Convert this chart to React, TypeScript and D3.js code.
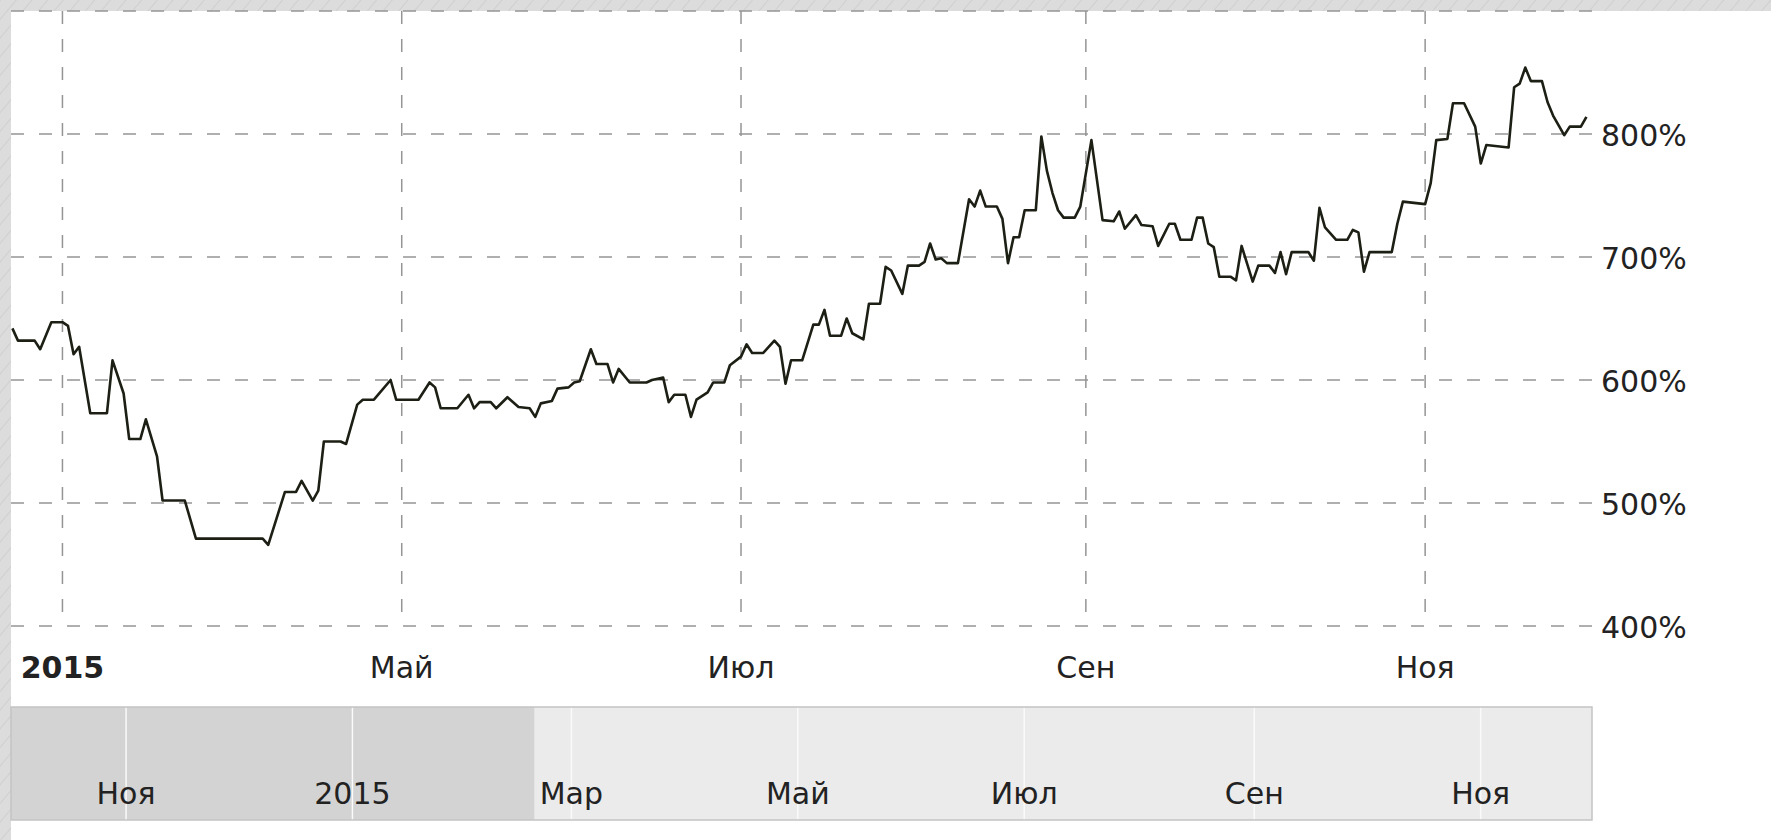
import React, { useEffect, useRef } from 'react'
import * as d3 from 'd3'

const W = 1771
const H = 840

// ряд: дата / значение в %
const dates = [
  '2015-02-20','2015-02-21','2015-02-24','2015-02-25','2015-02-27','2015-03-01','2015-03-02','2015-03-03',
  '2015-03-04','2015-03-06','2015-03-09','2015-03-10','2015-03-12','2015-03-13','2015-03-15','2015-03-16',
  '2015-03-18','2015-03-19','2015-03-23','2015-03-25','2015-04-06','2015-04-07','2015-04-10','2015-04-12',
  '2015-04-13','2015-04-15','2015-04-16','2015-04-17','2015-04-20','2015-04-21','2015-04-23','2015-04-24',
  '2015-04-26','2015-04-29','2015-04-30','2015-05-04','2015-05-06','2015-05-07','2015-05-08','2015-05-11',
  '2015-05-13','2015-05-14','2015-05-15','2015-05-17','2015-05-18','2015-05-20','2015-05-22','2015-05-24',
  '2015-05-25','2015-05-26','2015-05-28','2015-05-29','2015-05-31','2015-06-01','2015-06-02','2015-06-04',
  '2015-06-05','2015-06-07','2015-06-08','2015-06-09','2015-06-11','2015-06-14','2015-06-15','2015-06-17',
  '2015-06-18','2015-06-19','2015-06-21','2015-06-22','2015-06-23','2015-06-25','2015-06-26','2015-06-28',
  '2015-06-29','2015-07-01','2015-07-02','2015-07-03','2015-07-05','2015-07-07','2015-07-08','2015-07-09',
  '2015-07-10','2015-07-12','2015-07-14','2015-07-15','2015-07-16','2015-07-17','2015-07-19','2015-07-20',
  '2015-07-21','2015-07-23','2015-07-24','2015-07-26','2015-07-27','2015-07-28','2015-07-30','2015-07-31',
  '2015-08-02','2015-08-03','2015-08-04','2015-08-05','2015-08-06','2015-08-07','2015-08-09','2015-08-11',
  '2015-08-12','2015-08-13','2015-08-14','2015-08-16','2015-08-17','2015-08-18','2015-08-19','2015-08-20',
  '2015-08-21','2015-08-23','2015-08-24','2015-08-25','2015-08-26','2015-08-27','2015-08-28','2015-08-30',
  '2015-08-31','2015-09-02','2015-09-04','2015-09-06','2015-09-07','2015-09-08','2015-09-10','2015-09-11',
  '2015-09-13','2015-09-14','2015-09-16','2015-09-17','2015-09-18','2015-09-20','2015-09-21','2015-09-22',
  '2015-09-23','2015-09-24','2015-09-25','2015-09-27','2015-09-28','2015-09-29','2015-10-01','2015-10-02',
  '2015-10-04','2015-10-05','2015-10-06','2015-10-07','2015-10-08','2015-10-11','2015-10-12','2015-10-13',
  '2015-10-14','2015-10-16','2015-10-18','2015-10-19','2015-10-20','2015-10-21','2015-10-22','2015-10-26',
  '2015-10-27','2015-10-28','2015-11-01','2015-11-02','2015-11-03','2015-11-05','2015-11-06','2015-11-08',
  '2015-11-10','2015-11-11','2015-11-12','2015-11-16','2015-11-17','2015-11-18','2015-11-19','2015-11-20',
  '2015-11-22','2015-11-23','2015-11-24','2015-11-26','2015-11-27','2015-11-29','2015-11-30',
]
const values = [
  642,632,632,625,647,647,644,621,
  627,573,573,616,589,552,552,568,
  538,502,502,471,471,466,509,509,
  518,502,510,550,550,548,580,584,
  584,600,584,584,598,594,577,577,
  588,577,582,582,577,586,578,577,
  570,581,583,593,594,598,599,625,
  613,613,598,609,598,598,600,602,
  582,588,588,570,584,590,598,598,
  612,619,629,622,622,632,627,597,
  616,616,645,645,657,636,636,650,
  638,633,662,662,692,689,670,693,
  693,696,711,698,699,695,695,747,
  741,754,741,741,731,695,716,716,
  738,738,798,770,752,738,732,732,
  741,795,730,729,737,723,734,726,
  725,709,727,727,714,714,732,732,
  711,708,684,684,681,709,680,693,
  693,687,704,686,704,704,697,740,
  724,714,714,722,720,688,704,704,
  727,745,743,760,795,796,825,825,
  806,776,791,789,838,841,854,843,
  843,826,815,799,806,806,814,
]

const yTicks = [400, 500, 600, 700, 800, 900]
const yLabels = [400, 500, 600, 700, 800]
const mainTickDates = ['2015-03-01', '2015-05-01', '2015-07-01', '2015-09-01', '2015-11-01']
const mainTickLabels = ['2015', 'Май', 'Июл', 'Сен', 'Ноя']
const navTickDates = ['2014-11-01', '2015-01-01', '2015-03-01', '2015-05-01', '2015-07-01', '2015-09-01', '2015-11-01']
const navTickLabels = ['Ноя', '2015', 'Мар', 'Май', 'Июл', 'Сен', 'Ноя']
const navSelectionStart = '2015-02-19'

function App() {
  const svgRef = useRef<SVGSVGElement>(null)

  useEffect(() => {
    document.body.style.margin = '0'
    const parse = d3.timeParse('%Y-%m-%d')
    const data = dates.map((d, i) => [parse(d) as Date, values[i]] as [Date, number])

    const left = 11, right = 1592, top = 11, bottom = 626
    const font = 'DejaVu Sans'

    const svg = d3.select(svgRef.current)
    svg.selectAll('*').remove()

    // background with hatching
    const defs = svg.append('defs')
    const pat = defs.append('pattern')
      .attr('id', 'hatch')
      .attr('patternUnits', 'userSpaceOnUse')
      .attr('width', 12).attr('height', 12)
      .attr('patternTransform', 'rotate(40)')
    pat.append('rect').attr('width', 12).attr('height', 12).attr('fill', '#dcdcdc')
    pat.append('line').attr('x1', 0).attr('y1', 0).attr('x2', 0).attr('y2', 12)
      .attr('stroke', '#c6c6c6').attr('stroke-width', 1.2)
    defs.append('clipPath').attr('id', 'plotclip')
      .append('rect').attr('x', left).attr('y', top - 5).attr('width', right - left).attr('height', bottom - top + 10)

    svg.append('rect').attr('width', W).attr('height', H).attr('fill', 'url(#hatch)')
    svg.append('rect').attr('x', left).attr('y', top).attr('width', W - left).attr('height', H - top).attr('fill', '#fff')

    // scales
    const x = d3.scaleTime()
      .domain([new Date(2015, 1, 19, 18), new Date(2015, 11, 1)])
      .range([left, right])
    const y = d3.scaleLinear().domain([400, 900]).range([bottom, top])

    // grid
    const grid = svg.append('g')
      .attr('stroke', '#959595').attr('stroke-width', 1.5).attr('stroke-dasharray', '13,15')
    grid.selectAll('line.h').data(yTicks).join('line')
      .attr('x1', left).attr('x2', right)
      .attr('y1', d => y(d)).attr('y2', d => y(d))
    grid.selectAll('line.v').data(mainTickDates).join('line')
      .attr('x1', d => x(parse(d) as Date)).attr('x2', d => x(parse(d) as Date))
      .attr('y1', top).attr('y2', bottom)

    // line
    const line = d3.line<[Date, number]>()
      .x(d => x(d[0]))
      .y(d => y(d[1]))
    svg.append('path')
      .datum(data)
      .attr('clip-path', 'url(#plotclip)')
      .attr('d', line)
      .attr('fill', 'none')
      .attr('stroke', '#1c1f14')
      .attr('stroke-width', 2.6)
      .attr('stroke-linejoin', 'round')

    // y labels
    svg.append('g').selectAll('text').data(yLabels).join('text')
      .attr('x', 1601).attr('y', d => y(d) + 12)
      .attr('font-family', font).attr('font-size', 30).attr('fill', '#222')
      .text(d => `${d}%`)

    // x labels
    svg.append('g').selectAll('text').data(mainTickDates).join('text')
      .attr('x', d => x(parse(d) as Date)).attr('y', 678)
      .attr('text-anchor', 'middle')
      .attr('font-family', font).attr('font-size', 30).attr('fill', '#222')
      .attr('font-weight', (d, i) => (i === 0 ? 'bold' : 'normal'))
      .text((d, i) => mainTickLabels[i])

    // navigator
    const nx = d3.scaleTime()
      .domain([new Date(2014, 9, 1), new Date(2015, 11, 1)])
      .range([left, right])
    const navTop = 707, navBottom = 820
    const nav = svg.append('g')
    nav.append('rect')
      .attr('x', left).attr('y', navTop).attr('width', right - left).attr('height', navBottom - navTop)
      .attr('fill', '#ebebeb')
    nav.append('rect')
      .attr('x', left).attr('y', navTop)
      .attr('width', nx(parse(navSelectionStart) as Date) - left).attr('height', navBottom - navTop)
      .attr('fill', '#d3d3d3')
    nav.selectAll('line').data(navTickDates).join('line')
      .attr('x1', d => nx(parse(d) as Date)).attr('x2', d => nx(parse(d) as Date))
      .attr('y1', navTop).attr('y2', navBottom)
      .attr('stroke', '#fafafa').attr('stroke-width', 1.5)
    nav.append('rect')
      .attr('x', left).attr('y', navTop).attr('width', right - left).attr('height', navBottom - navTop)
      .attr('fill', 'none').attr('stroke', '#c4c4c4').attr('stroke-width', 1.5)
    nav.selectAll('text').data(navTickDates).join('text')
      .attr('x', d => nx(parse(d) as Date)).attr('y', 804)
      .attr('text-anchor', 'middle')
      .attr('font-family', font).attr('font-size', 30).attr('fill', '#222')
      .text((d, i) => navTickLabels[i])
  }, [])

  return <svg ref={svgRef} width={W} height={H} style={{ display: 'block' }}></svg>
}

export default App
